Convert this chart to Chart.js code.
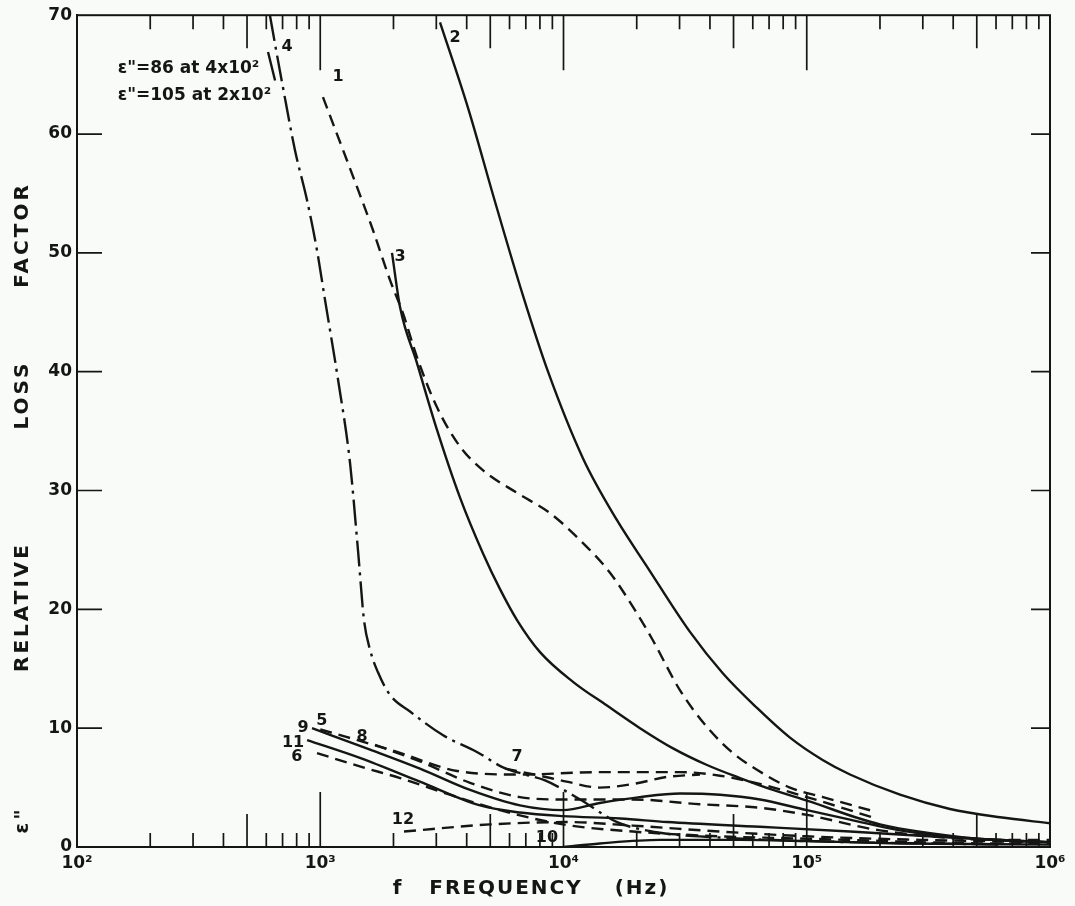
<!DOCTYPE html>
<html>
<head>
<meta charset="utf-8">
<script src="https://cdn.jsdelivr.net/npm/chart.js@4.4.1/dist/chart.umd.min.js"></script>
<style>
  html, body { margin: 0; padding: 0; background: #f9fbf8; }
  canvas { display: block; }
</style>
</head>
<body>
<canvas id="chart" width="1075" height="906"></canvas>
<script>
// --- values (frequency in Hz, loss factor) ---
const xTickValues = [100, 1000, 10000, 100000, 1000000];
const xTickLabels = ["10²", "10³", "10⁴", "10⁵", "10⁶"];
const yTickValues = [0, 10, 20, 30, 40, 50, 60, 70];

const curve1F = [1026, 1455, 1648, 1936, 2189, 2500, 3020, 3755, 4670, 6440, 8800, 12000, 15500, 20000, 23300, 30100, 38900, 49800, 62400, 85300, 116700, 189000];
const curve1V = [63.1, 54.9, 51.9, 47.7, 44.9, 41.2, 37.0, 33.7, 31.7, 29.8, 28.1, 25.6, 23.1, 19.7, 17.4, 13.2, 10.1, 7.9, 6.5, 5.0, 4.2, 3.0];

const curve2F = [3107, 4050, 5230, 6815, 8637, 12030, 16595, 22040, 33110, 45260, 62460, 85330, 116660, 150600, 241700, 388000, 623000, 1000000];
const curve2V = [69.4, 62.2, 54.3, 46.4, 40.0, 32.7, 27.5, 23.6, 18.1, 14.6, 11.7, 9.2, 7.3, 6.1, 4.4, 3.2, 2.5, 2.0];

const curve3F = [1972, 2130, 2500, 3020, 3755, 4668, 5483, 6440, 8007, 10940, 15090, 20630, 28200, 38900, 53170, 72660, 100230, 200000, 500000, 1000000];
const curve3V = [50.0, 45.4, 40.7, 35.1, 29.4, 24.7, 21.7, 19.1, 16.4, 13.9, 11.9, 10.0, 8.3, 6.9, 5.8, 4.8, 3.9, 1.9, 0.7, 0.4];

const curve4F = [621, 658, 703, 788, 883, 970, 1047, 1184, 1326, 1429, 1513, 1602, 1727, 1936, 2339, 3200, 4405, 5640, 6950, 8400, 11700, 16600, 24900, 44000, 100000, 622000];
const curve4V = [70.0, 67.1, 63.9, 58.6, 54.4, 50.2, 46.0, 39.3, 32.3, 25.0, 19.1, 16.6, 14.7, 12.8, 11.4, 9.4, 8.0, 6.7, 6.1, 5.6, 4.0, 2.1, 1.2, 0.8, 0.5, 0.2];
// short second stroke beside curve 4 near the top
const curve4bF = [610, 652];
const curve4bV = [66.9, 64.5];

const curve5F = [1000, 2070, 3650, 6620, 14100, 30100, 44000, 64200, 100200, 193000];
const curve5V = [9.9, 8.0, 6.4, 6.1, 6.3, 6.3, 6.0, 5.3, 4.2, 2.4];

const curve6F = [970, 1500, 2130, 3410, 5480, 9950, 19300, 44000, 100200, 622000, 1000000];
const curve6V = [7.9, 6.7, 5.8, 4.4, 3.1, 1.9, 1.3, 0.9, 0.7, 0.3, 0.3];

const curve7F = [5750, 8000, 10300, 14100, 19300, 26700, 36400];
const curve7V = [6.6, 6.0, 5.5, 5.0, 5.3, 5.9, 6.1];

const curve8F = [1680, 2570, 4130, 6620, 9950, 19300, 36400, 64200, 100200, 200000, 622000, 1000000];
const curve8V = [8.6, 7.2, 5.4, 4.2, 4.0, 4.0, 3.6, 3.3, 2.7, 1.4, 0.6, 0.6];

const curve9F = [925, 1603, 2570, 4130, 6620, 9950, 14100, 20600, 30100, 44000, 64200, 100200, 150600, 241500, 426000, 1000000];
const curve9V = [10.0, 8.2, 6.6, 4.8, 3.5, 3.1, 3.7, 4.2, 4.5, 4.4, 4.0, 3.1, 2.3, 1.4, 0.8, 0.4];

const curve10F = [10000, 14100, 24900, 53200, 100200, 241500, 1000000];
const curve10V = [0.0, 0.3, 0.6, 0.6, 0.5, 0.3, 0.2];

const curve11F = [883, 1455, 2570, 4540, 6620, 9950, 17100, 26700, 64200, 150600, 388000, 1000000];
const curve11V = [9.0, 7.5, 5.5, 3.5, 2.9, 2.6, 2.4, 2.1, 1.7, 1.3, 0.8, 0.4];

const curve12F = [2210, 4990, 10300, 19300, 44000, 100200, 292000, 1000000];
const curve12V = [1.3, 1.9, 2.1, 1.8, 1.3, 0.9, 0.6, 0.4];

// curve numbers and where they sit (Hz, loss factor)
const labelTexts = ["1", "2", "3", "4", "5", "6", "7", "8", "9", "10", "11", "12"];
const labelF = [1183, 3580, 2130, 730, 1016, 802, 6440, 1486, 849, 8550, 773, 2188];
const labelV = [64.8, 68.1, 49.7, 67.3, 10.6, 7.6, 7.6, 9.25, 10.0, 0.76, 8.8, 2.3];

// off-scale notes in the top left corner
const noteTexts = ["ε\"=86 at 4x10²", "ε\"=105 at 2x10²"];
const noteF = [147, 147];
const noteV = [65.5, 63.2];

const xTitleWords = ["f", "FREQUENCY", "(Hz)"];
const yTitleWords = ["ε\"", "RELATIVE", "LOSS", "FACTOR"];

// --- line styles ---
const SOLID = [];
const DASH = [12, 7];
const DASHDOT = [26, 6, 3, 6];
const INK = "#151515";

function toPoints(freqs, values) {
    return freqs.map((f, i) => ({ x: f, y: values[i] }));
}

const curves = [
    { f: curve1F, v: curve1V, dash: DASH },
    { f: curve2F, v: curve2V, dash: SOLID },
    { f: curve3F, v: curve3V, dash: SOLID },
    { f: curve4F, v: curve4V, dash: DASHDOT },
    { f: curve4bF, v: curve4bV, dash: SOLID },
    { f: curve5F, v: curve5V, dash: DASH },
    { f: curve6F, v: curve6V, dash: DASH },
    { f: curve7F, v: curve7V, dash: DASH },
    { f: curve8F, v: curve8V, dash: DASH },
    { f: curve9F, v: curve9V, dash: SOLID },
    { f: curve10F, v: curve10V, dash: SOLID },
    { f: curve11F, v: curve11V, dash: SOLID },
    { f: curve12F, v: curve12V, dash: DASH }
];

// paper, frame, inward tick marks and the lettering
const paperPlugin = {
    id: "paper",
    beforeDraw(chart) {
        const ctx = chart.ctx;
        ctx.save();
        ctx.fillStyle = "#f9fbf8";
        ctx.fillRect(0, 0, chart.width, chart.height);
        ctx.restore();
    },
    beforeDatasetsDraw(chart) {
        const { ctx, chartArea: a, scales: { x, y } } = chart;
        ctx.save();
        ctx.strokeStyle = INK;
        ctx.lineWidth = 2;
        ctx.strokeRect(a.left, a.top, a.right - a.left, a.bottom - a.top);

        // log ticks on top and bottom edges, pointing inward
        ctx.lineWidth = 1.7;
        ctx.beginPath();
        for (let d = 100; d < 1000000; d *= 10) {
            for (let m = 1; m <= 9; m++) {
                if (m === 1 && d === 100) continue;
                const px = x.getPixelForValue(m * d);
                const len = m === 1 ? 55 : (m === 5 ? 33 : 14);
                ctx.moveTo(px, a.bottom);
                ctx.lineTo(px, a.bottom - len);
                ctx.moveTo(px, a.top);
                ctx.lineTo(px, a.top + len);
            }
        }
        // ticks on left and right edges
        for (const v of yTickValues) {
            if (v === 0 || v === 70) continue;
            const py = y.getPixelForValue(v);
            ctx.moveTo(a.left, py);
            ctx.lineTo(a.left + 25, py);
            ctx.moveTo(a.right, py);
            ctx.lineTo(a.right - 19, py);
        }
        ctx.stroke();
        ctx.restore();
    },
    afterDraw(chart) {
        const { ctx, scales: { x, y } } = chart;
        ctx.save();
        ctx.fillStyle = INK;

        // curve numbers
        ctx.font = "bold 16px 'DejaVu Sans'";
        ctx.textAlign = "center";
        ctx.textBaseline = "middle";
        labelTexts.forEach((t, i) => {
            ctx.fillText(t, x.getPixelForValue(labelF[i]), y.getPixelForValue(labelV[i]));
        });

        // notes
        ctx.font = "bold 17px 'DejaVu Sans'";
        ctx.textAlign = "left";
        noteTexts.forEach((t, i) => {
            ctx.fillText(t, x.getPixelForValue(noteF[i]), y.getPixelForValue(noteV[i]));
        });

        // axis titles, spaced out like the lettering guide
        ctx.font = "bold 20px 'DejaVu Sans'";
        ctx.letterSpacing = "2px";
        ctx.textAlign = "center";
        const xPos = [398, 506, 642];
        xTitleWords.forEach((w, i) => ctx.fillText(w, xPos[i], 889));

        ctx.letterSpacing = "3px";
        const yPos = [820, 607, 395, 235];
        ctx.translate(23, 0);
        ctx.rotate(-Math.PI / 2);
        yTitleWords.forEach((w, i) => ctx.fillText(w, -yPos[i], 0));
        ctx.restore();
    }
};

new Chart(document.getElementById("chart"), {
    type: "line",
    data: {
        datasets: curves.map(c => ({
            data: toPoints(c.f, c.v),
            borderColor: INK,
            borderWidth: 2.4,
            borderDash: c.dash,
            pointRadius: 0,
            fill: false,
            cubicInterpolationMode: "monotone"
        }))
    },
    options: {
        responsive: false,
        animation: false,
        devicePixelRatio: 1,
        layout: { padding: { top: 15, right: 25, left: 0, bottom: 0 } },
        plugins: {
            legend: { display: false },
            tooltip: { enabled: false }
        },
        scales: {
            x: {
                type: "logarithmic",
                min: 100,
                max: 1000000,
                afterBuildTicks: scale => {
                    scale.ticks = xTickValues.map(v => ({ value: v }));
                },
                afterFit: scale => { scale.height = 59; },
                grid: { display: false, drawTicks: false },
                border: { display: true, color: INK, width: 2 },
                ticks: {
                    autoSkip: false,
                    maxRotation: 0,
                    padding: 6,
                    color: INK,
                    font: { family: "DejaVu Sans", size: 17, weight: "bold" },
                    callback: value => xTickLabels[xTickValues.indexOf(value)]
                }
            },
            y: {
                min: 0,
                max: 70,
                afterBuildTicks: scale => {
                    scale.ticks = yTickValues.map(v => ({ value: v }));
                },
                afterFit: scale => { scale.width = 77; },
                grid: { display: false, drawTicks: false },
                border: { display: true, color: INK, width: 2 },
                ticks: {
                    padding: 5,
                    color: INK,
                    font: { family: "DejaVu Sans", size: 17, weight: "bold" }
                }
            }
        }
    },
    plugins: [paperPlugin]
});
</script>
</body>
</html>
